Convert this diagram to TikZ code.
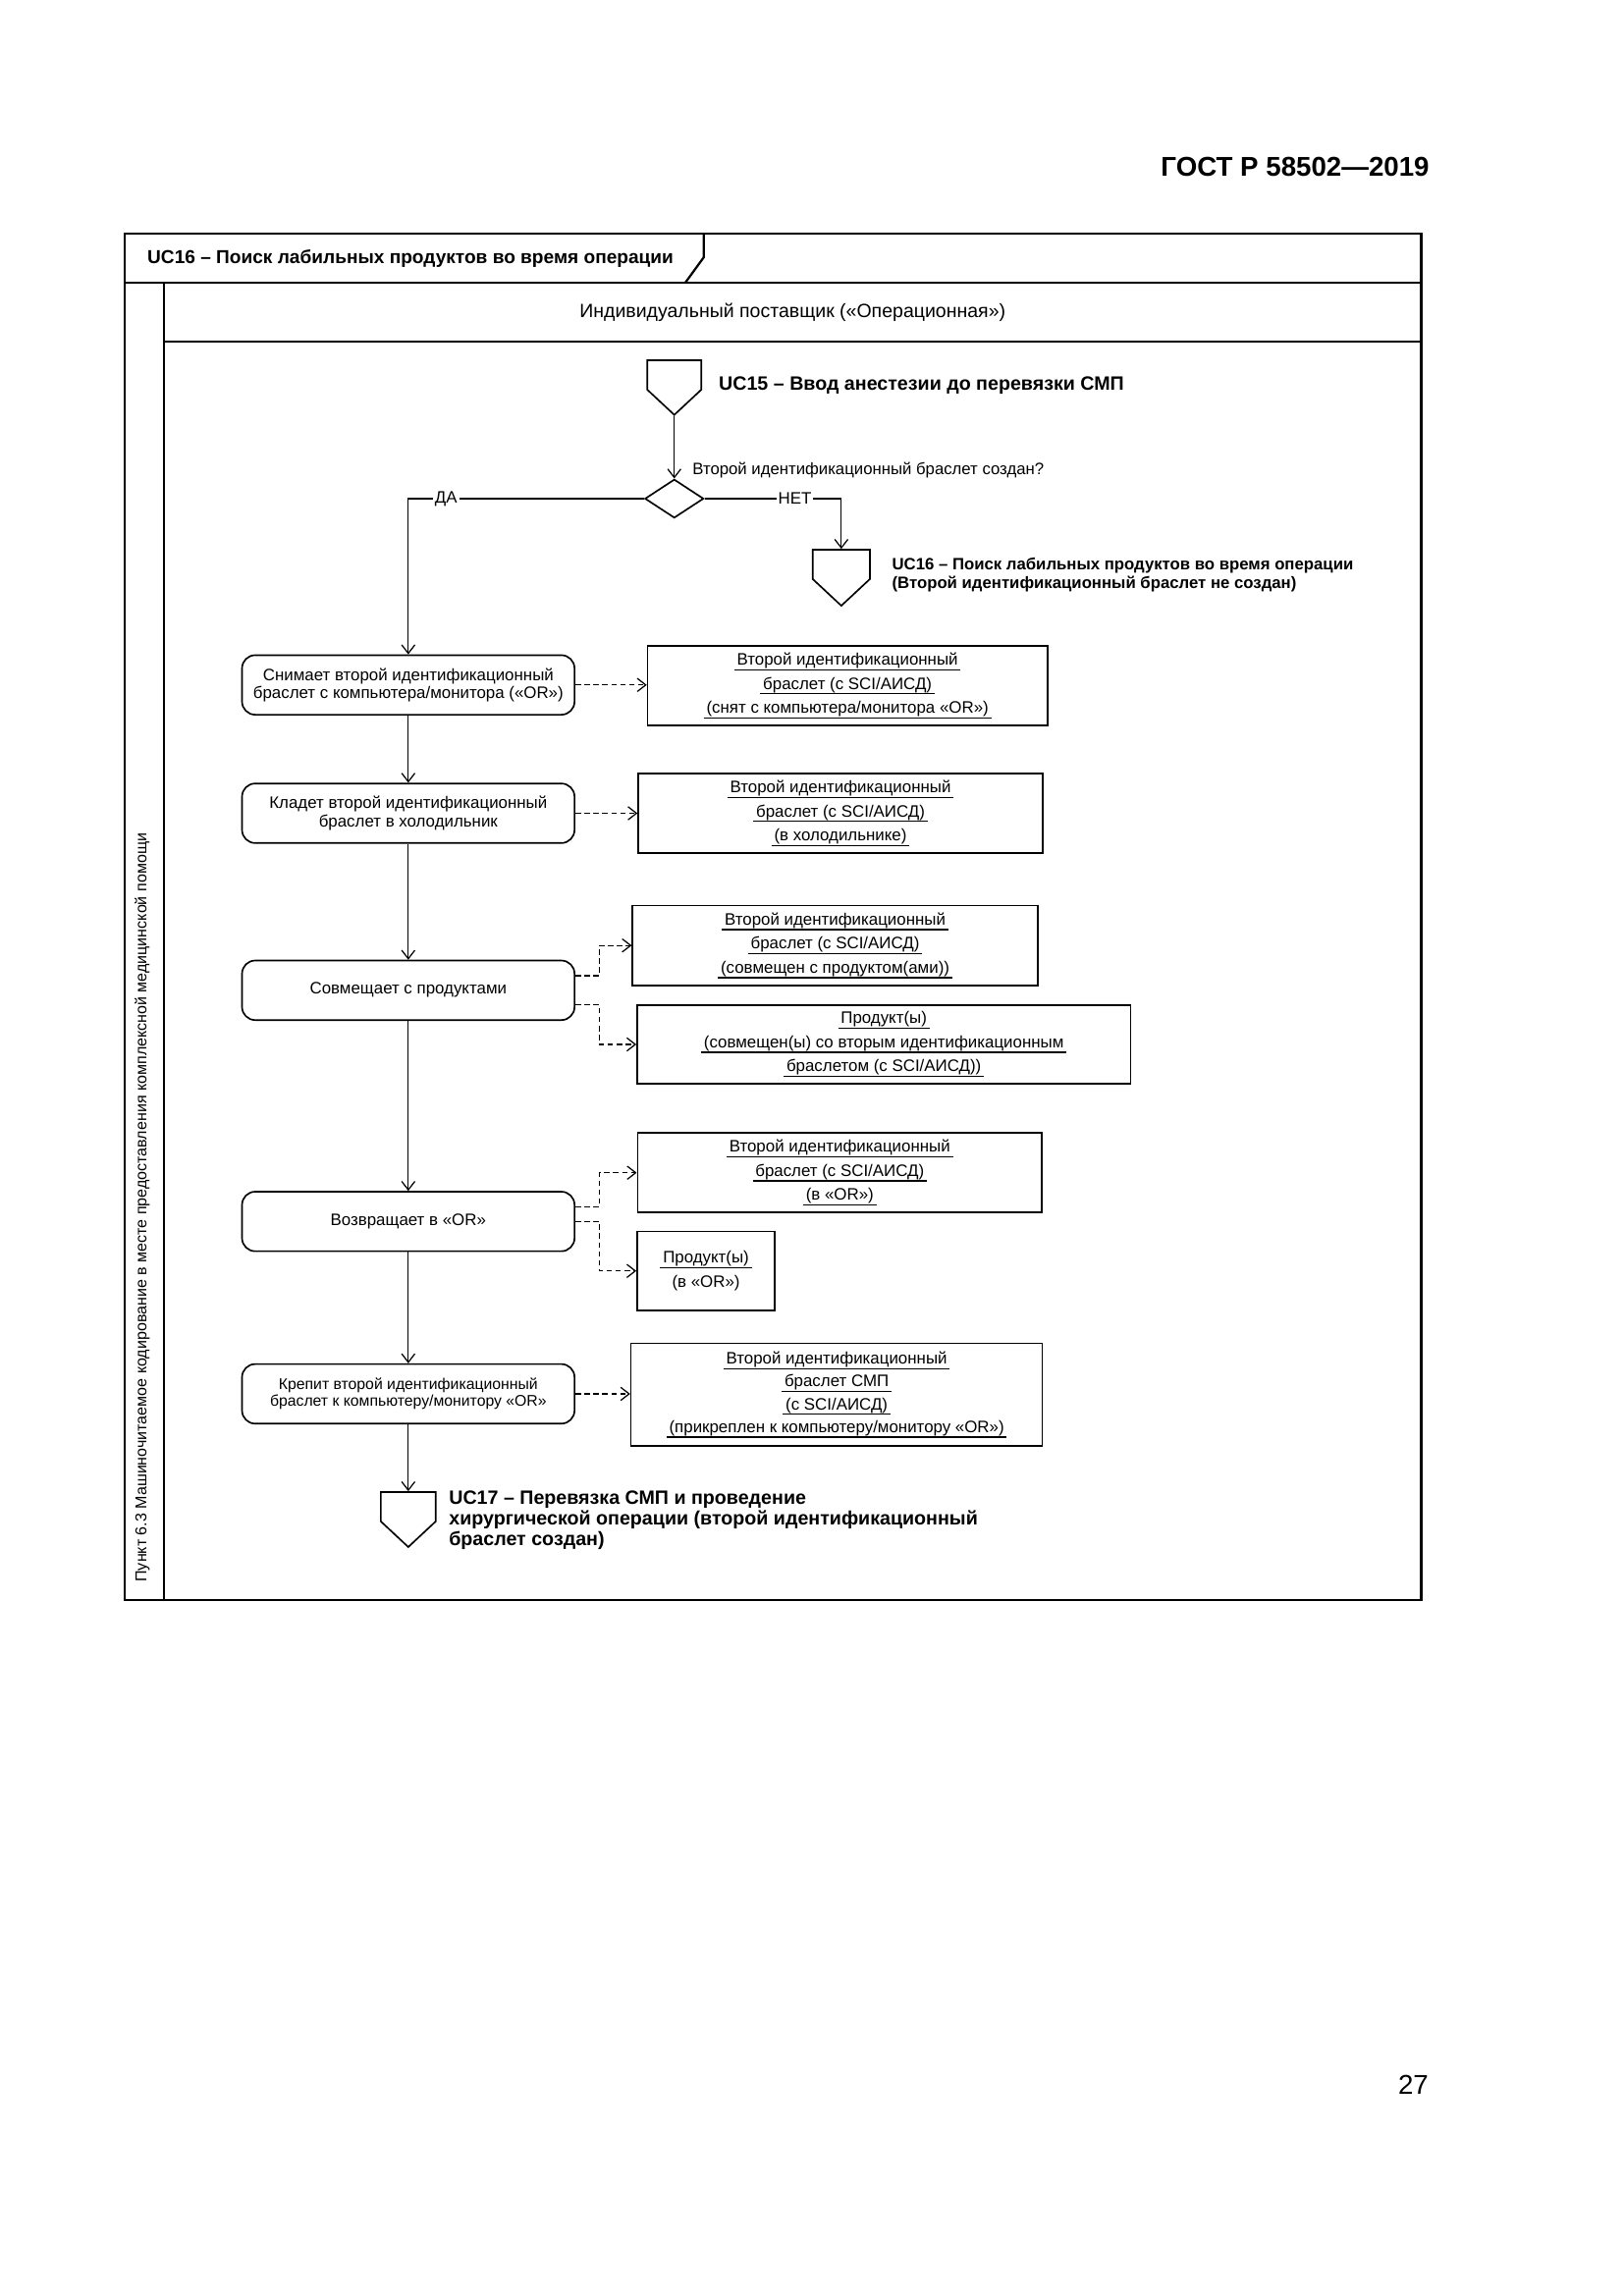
\documentclass[tikz,border=0pt]{standalone}
\usepackage{fontspec}
\setmainfont{Liberation Sans}
\usepackage{tikz}
\usetikzlibrary{positioning,arrows.meta,shapes.geometric,shapes.symbols}

\newsavebox{\objbox}
\newcommand{\objline}[1]{\sbox{\objbox}{\,#1\,}\rlap{\rule[-1.9pt]{\wd\objbox}{0.45pt}}\usebox{\objbox}}

\begin{document}
\begin{tikzpicture}[
    frame/.style={line width=0.8pt},
    act/.style={rectangle, draw, rounded corners=1.7mm, minimum width=4.30cm, minimum height=0.77cm, align=center, line width=0.6pt, inner sep=1pt, font=\fontsize{6.1}{6.6}\selectfont},
    obj/.style={rectangle, draw, minimum height=1.03cm, align=center, line width=0.6pt, inner sep=0pt, font=\fontsize{6.1}{8.85}\selectfont},
    conn/.style={signal, signal to=south, draw, signal pointer angle=94, minimum width=0.70cm, minimum height=0.38cm, line width=0.6pt, inner sep=0pt},
    decide/.style={diamond, draw, minimum width=0.76cm, minimum height=0.50cm, line width=0.6pt, inner sep=0pt},
    uctext/.style={anchor=west, align=left, inner sep=0pt, font=\bfseries\fontsize{7.1}{7.6}\selectfont},
    lbl/.style={fill=white, inner sep=0.7pt, font=\fontsize{6.1}{7}\selectfont},
    flow/.style={-{Straight Barb[length=1.1mm,width=1.7mm]}, line width=0.45pt},
    dep/.style={flow, dash pattern=on 2pt off 1.3pt}
]
\useasboundingbox (0,0) rectangle (21.0,-29.7);

% page head and number
\node[anchor=east, inner sep=0pt, font=\bfseries\fontsize{10}{12}\selectfont] (gost) at (18.49,-2.16) {ГОСТ Р 58502—2019};
\node[anchor=east, inner sep=0pt, font=\fontsize{10}{12}\selectfont] (page) at (18.48,-26.97) {27};

% frame, tab and lanes
\draw[frame] (1.61,-3.02) rectangle (18.38,-20.70);
\draw[frame] (1.61,-3.66) -- (18.38,-3.66);
\draw[frame] (9.10,-3.02) -- (9.10,-3.33) -- (8.86,-3.66);
\draw[frame] (2.12,-3.66) -- (2.12,-20.70);
\draw[frame] (2.12,-4.42) -- (18.38,-4.42);

\node[anchor=west, inner sep=0pt, font=\bfseries\fontsize{6.9}{8}\selectfont] (title) at (1.90,-3.34) {UC16 – Поиск лабильных продуктов во время операции};
\node[font=\fontsize{7.05}{8}\selectfont] (role) at (10.25,-4.04) {Индивидуальный поставщик («Операционная»)};
\node[rotate=90, anchor=west, inner sep=0pt, font=\fontsize{5.8}{7}\selectfont] (lane) at (1.84,-20.47) {Пункт 6.3 Машиночитаемое кодирование в месте предоставления комплексной медицинской помощи};

% start and decision
\node[conn] (uc15) at (8.72,-4.85) {};
\node[uctext] (uc15t) at (9.29,-4.98) {UC15 – Ввод анестезии до перевязки СМП};
\node[decide] (dec) at (8.72,-6.45) {};
\node[anchor=west, inner sep=0pt, font=\fontsize{6.05}{7}\selectfont] (ask) at (8.95,-6.08) {Второй идентификационный браслет создан?};
\node[conn, minimum width=0.74cm] (uc16) at (10.88,-7.30) {};
\node[uctext, font=\bfseries\fontsize{6.05}{6.9}\selectfont] (uc16t) at (11.53,-7.44) {UC16 – Поиск лабильных продуктов во время операции\\(Второй идентификационный браслет не создан)};

% actions
\node[act] (unhook) at (5.28,-8.86) {Снимает второй идентификационный\\браслет с компьютера/монитора («OR»)};
\node[act] (fridge) at (5.28,-10.52) {Кладет второй идентификационный\\браслет в холодильник};
\node[act] (match) at (5.28,-12.81) {Совмещает с продуктами};
\node[act] (ret) at (5.28,-15.80) {Возвращает в «OR»};
\node[act, font=\fontsize{5.7}{6.2}\selectfont] (attach) at (5.28,-18.03) {Крепит второй идентификационный\\браслет к компьютеру/монитору «OR»};
\node[conn, minimum width=0.71cm] (uc17) at (5.28,-19.49) {};
\node[uctext] (uc17t) at (5.80,-19.67) {UC17 – Перевязка СМП и проведение\\хирургической операции (второй идентификационный\\браслет создан)};

% objects
\node[obj, minimum width=5.17cm] (bandOff) at (10.96,-8.87) {\objline{Второй идентификационный}\\\objline{браслет (с SCI/АИСД)}\\\objline{(снят с компьютера/монитора «OR»)}};
\node[obj, minimum width=5.23cm] (bandCold) at (10.87,-10.52) {\objline{Второй идентификационный}\\\objline{браслет (с SCI/АИСД)}\\\objline{(в холодильнике)}};
\node[obj, minimum width=5.24cm] (bandMatch) at (10.80,-12.23) {\objline{Второй идентификационный}\\\objline{браслет (с SCI/АИСД)}\\\objline{(совмещен с продуктом(ами))}};
\node[obj, minimum width=6.38cm, minimum height=1.02cm] (prodMatch) at (11.43,-13.51) {\objline{Продукт(ы)}\\\objline{(совмещен(ы) со вторым идентификационным}\\\objline{браслетом (с SCI/АИСД))}};
\node[obj, minimum width=5.23cm] (bandOR) at (10.86,-15.17) {\objline{Второй идентификационный}\\\objline{браслет (с SCI/АИСД)}\\\objline{(в «OR»)}};
\node[obj, minimum width=1.78cm, minimum height=1.02cm] (prodOR) at (9.13,-16.44) {\objline{Продукт(ы)}\\(в «OR»)};
\node[obj, minimum width=5.32cm, minimum height=1.33cm, font=\fontsize{6.1}{8.4}\selectfont] (bandFix) at (10.82,-18.04) {\objline{Второй идентификационный}\\\objline{браслет СМП}\\\objline{(с SCI/АИСД)}\\\objline{(прикреплен к компьютеру/монитору «OR»)}};

% control flow
\draw[flow] (uc15.south) -- (dec.north);
\draw[flow] (dec.east) -| node[lbl, pos=0.33] {НЕТ} (uc16.north);
\draw[flow] (dec.west) -| node[lbl, pos=0.42] {ДА} (unhook.north);
\draw[flow] (unhook) -- (fridge);
\draw[flow] (fridge) -- (match);
\draw[flow] (match) -- (ret);
\draw[flow] (ret) -- (attach);
\draw[flow] (attach.south) -- (uc17.north);

% object flow
\draw[dep] (unhook.east) -- (unhook.east -| bandOff.west);
\draw[dep] (fridge.east) -- (fridge.east -| bandCold.west);
\draw[dep] ([yshift=0.19cm]match.east) -- ++(0.31,0) |- (bandMatch.west);
\draw[dep] ([yshift=-0.19cm]match.east) -- ++(0.31,0) |- (prodMatch.west);
\draw[dep] ([yshift=0.19cm]ret.east) -- ++(0.31,0) |- (bandOR.west);
\draw[dep] (ret.east) -- ++(0.31,0) |- (prodOR.west);
\draw[dep] (attach.east) -- (attach.east -| bandFix.west);
\end{tikzpicture}
\end{document}
